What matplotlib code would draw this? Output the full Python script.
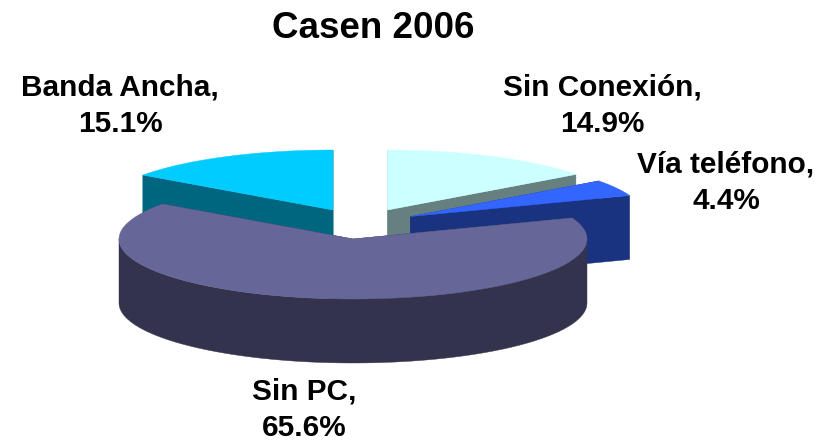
import numpy as np
import matplotlib
matplotlib.use('Agg')
import matplotlib.pyplot as plt
from matplotlib.patches import Polygon

plt.rcParams['font.family'] = ['Liberation Sans', 'DejaVu Sans']

# Data, clockwise from 12 o'clock
labels = ['Sin Conexión', 'Vía teléfono', 'Sin PC', 'Banda Ancha']
shares = [14.9, 4.4, 65.6, 15.1]

# Styling
top_colors = ['#CCFFFF', '#3366FF', '#666699', '#00CCFF']
wall_colors = ['#668080', '#1A3380', '#33334D', '#006680']
centers = [(387.5, 210), (410.5, 216.5), (353, 239), (333, 210)]
label_pos = [(602, 106), (726, 183), (304, 410), (120, 106)]
draw_order = [0, 3, 1, 2]

rx, ry = 234, 60
depth = 64

fig = plt.figure(figsize=(8.25, 4.41), dpi=100)
ax = fig.add_axes([0, 0, 1, 1])
ax.set_xlim(0, 825)
ax.set_ylim(441, 0)
ax.axis('off')

# Slice angles in degrees
edges = np.concatenate([[0], np.cumsum(shares)]) / np.sum(shares) * 360


def rim(cx, cy, a0, a1, n=200):
    t = np.radians(np.linspace(a0, a1, n))
    return np.column_stack([cx + rx * np.sin(t), cy - ry * np.cos(t)])


def draw_slice(i):
    cx, cy = centers[i]
    a0, a1 = edges[i], edges[i + 1]
    apex = np.array([cx, cy])
    down = np.array([0, depth])
    arc = rim(cx, cy, a0, a1)

    # radial cut faces
    for p in (arc[0], arc[-1]):
        face = np.array([apex, p, p + down, apex + down])
        ax.add_patch(Polygon(face, fc=wall_colors[i], ec=wall_colors[i], lw=0.3, zorder=draw_order.index(i) * 2 + 1))

    # outer wall, only the front half of the rim shows
    f0, f1 = max(a0, 90), min(a1, 270)
    if f1 > f0:
        front = rim(cx, cy, f0, f1)
        wall = np.vstack([front, (front + down)[::-1]])
        ax.add_patch(Polygon(wall, fc=wall_colors[i], ec=wall_colors[i], lw=0.3, zorder=draw_order.index(i) * 2 + 1))

    # top
    top = np.vstack([apex, arc])
    ax.add_patch(Polygon(top, fc=top_colors[i], ec=top_colors[i], lw=0.3, zorder=draw_order.index(i) * 2 + 2))


for i in draw_order:
    draw_slice(i)

for name, v, (x, y) in zip(labels, shares, label_pos):
    ax.text(x, y, f'{name},\n{v:.1f}%', ha='center', va='center', fontsize=21.4,
            fontweight='bold', linespacing=1.4, color='black', zorder=20)

ax.text(373, 28.5, 'Casen 2006', ha='center', va='center', fontsize=26.5,
        fontweight='bold', color='black', zorder=20)

fig.savefig('out.png', dpi=100)
